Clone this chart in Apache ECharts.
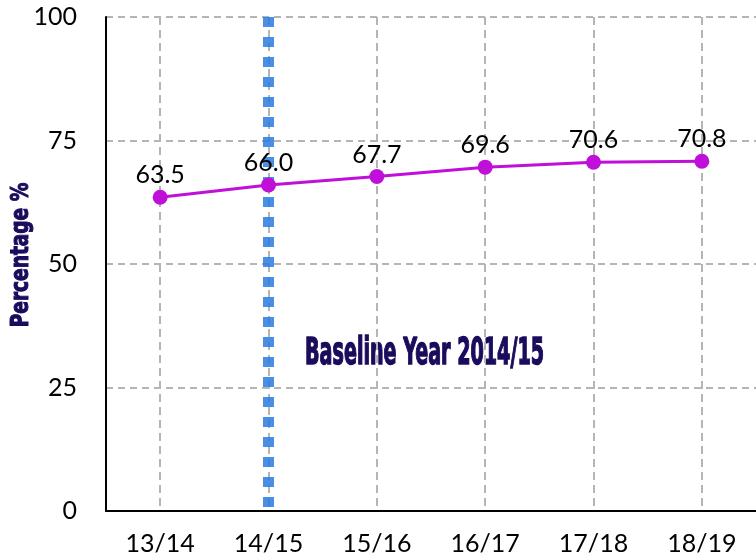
<!DOCTYPE html>
<html>
<head>
<meta charset="utf-8">
<script src="https://cdn.jsdelivr.net/npm/echarts@6/dist/echarts.min.js"></script>
<style>html,body{margin:0;padding:0;background:#fff}#c{width:756px;height:560px}</style>
</head>
<body>
<div id="c"></div>
<script>
const categories = ['13/14', '14/15', '15/16', '16/17', '17/18', '18/19'];
const percentages = [63.5, 66.0, 67.7, 69.6, 70.6, 70.8];
const baselineCategory = '14/15';
const yTicks = [0, 25, 50, 75, 100];
const yTitle = 'Percentage %';
const baselineText = 'Baseline Year 2014/15';

const chart = echarts.init(document.getElementById('c'), null, {renderer: 'canvas'});
const navy = '#1b0b5c';
const condensed = 'Liberation Sans Narrow, DejaVu Sans Condensed, sans-serif';
chart.setOption({
  animation: false,
  backgroundColor: '#fff',
  grid: {left: 106, top: 17, width: 654, bottom: 49, containLabel: false},
  xAxis: {
    type: 'category',
    data: categories,
    boundaryGap: true,
    axisLine: {lineStyle: {color: '#000', width: 2}},
    axisTick: {show: false},
    axisLabel: {color: '#000', fontFamily: 'Lato', fontSize: 25, margin: 20},
    splitLine: {show: true, alignWithLabel: true, lineStyle: {color: '#b5b5b5', width: 2, type: [8, 5]}}
  },
  yAxis: {
    type: 'value',
    min: yTicks[0],
    max: yTicks[yTicks.length - 1],
    interval: 25,
    axisLine: {show: true, lineStyle: {color: '#000', width: 2}},
    axisTick: {show: false},
    axisLabel: {color: '#000', fontFamily: 'Lato', fontSize: 25, margin: 29},
    splitLine: {show: true, lineStyle: {color: '#b5b5b5', width: 2, type: [7, 5]}}
  },
  series: [
    {
      type: 'line',
      z: 1,
      data: [[baselineCategory, yTicks[yTicks.length - 1]], [baselineCategory, yTicks[0]]],
      symbol: 'none',
      lineStyle: {color: 'rgba(40,125,225,0.85)', width: 11, type: [10, 10], cap: 'butt'},
      silent: true
    },
    {
      type: 'line',
      z: 3,
      data: percentages,
      symbol: 'circle',
      symbolSize: 15,
      itemStyle: {color: '#c00fd9'},
      lineStyle: {color: '#c00fd9', width: 3},
      label: {
        show: true, position: 'top', distance: 2,
        formatter: p => p.value.toFixed(1),
        color: '#000', fontFamily: 'Lato', fontSize: 25
      }
    }
  ],
  graphic: [
    {
      type: 'text', x: 305, y: 354, scaleX: 0.575,
      style: {text: baselineText, fill: navy, stroke: navy, lineWidth: 1.4, fontFamily: condensed, fontWeight: 'bold', fontSize: 37, textVerticalAlign: 'middle', textAlign: 'left'}
    },
    {
      type: 'text', x: 22, y: 255, rotation: Math.PI / 2, scaleX: 0.86,
      style: {text: yTitle, fill: navy, stroke: navy, lineWidth: 1, fontFamily: condensed, fontWeight: 'bold', fontSize: 24, textVerticalAlign: 'middle', textAlign: 'center'}
    }
  ]
});
</script>
</body>
</html>
